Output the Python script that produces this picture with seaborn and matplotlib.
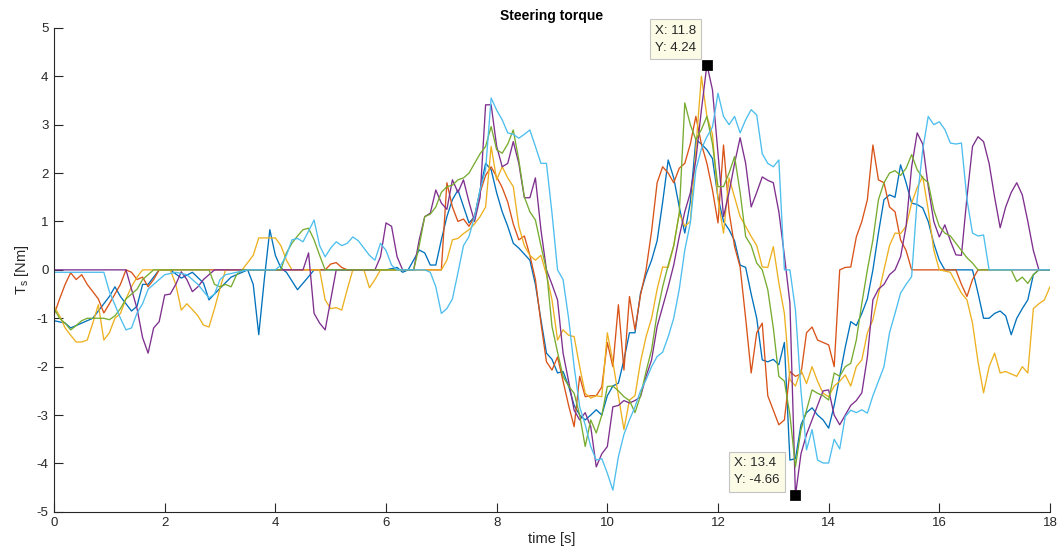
import matplotlib
matplotlib.use("Agg")
import matplotlib.pyplot as plt
import seaborn as sns
import pandas as pd

# MATLAB default line order / colours
run_names = ["run 1", "run 2", "run 3", "run 4", "run 5", "run 6"]
run_colors = ["#0072BD", "#D95319", "#EDB120", "#7E2F8E", "#77AC30", "#4DBEEE"]

# (time [s], torque [Nm])
run1 = [(0, -1.05), (0.2, -1.1), (0.3, -1.2), (0.5, -1.1), (0.7, -1.0), (0.9, -0.7), (1.0, -0.55),
        (1.1, -0.35), (1.2, -0.55), (1.4, -0.85), (1.5, -0.75), (1.6, -0.3), (1.7, -0.3), (1.9, 0),
        (2.1, 0), (2.3, -0.17), (2.5, -0.05), (2.7, -0.27), (2.8, -0.62), (3.0, -0.38), (3.2, -0.15),
        (3.4, -0.05), (3.5, 0), (3.6, -0.3), (3.7, -1.34), (3.8, -0.2), (3.9, 0.83), (4.0, 0.3),
        (4.1, 0.04), (4.2, -0.05), (4.4, -0.41), (4.6, -0.14), (4.7, 0), (6.0, 0), (6.2, 0.05),
        (6.3, -0.05), (6.4, 0), (6.6, 0.41), (6.7, 0.35), (6.8, 0.1), (6.9, 0.1), (7.0, 0.62),
        (7.1, 1.1), (7.2, 1.45), (7.3, 1.65), (7.5, 0.97), (7.6, 1.1), (7.7, 1.65), (7.8, 2.2),
        (7.9, 2.07), (8.0, 1.59), (8.1, 1.2), (8.2, 0.9), (8.3, 0.55), (8.4, 0.45), (8.6, 0.2),
        (8.7, -0.3), (8.8, -1.03), (8.9, -1.72), (9.0, -1.85), (9.1, -2.13), (9.2, -2.1), (9.3, -2.4),
        (9.4, -2.8), (9.5, -3.0), (9.6, -3.1), (9.7, -3.0), (9.8, -2.89), (9.9, -3.0), (10.0, -2.6),
        (10.1, -2.4), (10.2, -2.34), (10.3, -1.86), (10.4, -1.3), (10.5, -1.3), (10.6, -0.48),
        (10.7, -0.1), (10.8, 0.2), (10.9, 0.6), (11.0, 1.4), (11.1, 2.27), (11.2, 1.9), (11.3, 1.3),
        (11.4, 0.76), (11.5, 1.4), (11.6, 2.69), (11.7, 2.6), (11.8, 2.48), (11.9, 2.3), (12.0, 1.5),
        (12.1, 1.0), (12.2, 0.83), (12.3, 0.6), (12.4, 0.1), (12.5, 0.05), (12.6, -0.5), (12.7, -1.0),
        (12.8, -1.86), (12.9, -1.9), (13.0, -1.85), (13.1, -1.96), (13.2, -1.5), (13.3, -3.93),
        (13.4, -3.9), (13.5, -3.2), (13.6, -2.95), (13.7, -2.85), (13.8, -3.0), (13.9, -3.1),
        (14.0, -3.27), (14.1, -2.8), (14.2, -2.2), (14.3, -1.6), (14.4, -1.07), (14.5, -1.15),
        (14.6, -0.9), (14.7, -0.6), (14.8, 0), (14.9, 0.76), (15.0, 1.45), (15.1, 1.55), (15.2, 1.5),
        (15.3, 2.17), (15.4, 1.8), (15.5, 1.38), (15.6, 1.35), (15.7, 1.28), (15.8, 1.0), (15.9, 0.55),
        (16.0, 0.2), (16.1, 0), (16.6, 0), (16.7, -0.48), (16.8, -1.0), (16.9, -1.0), (17.0, -0.9),
        (17.1, -0.85), (17.2, -0.95), (17.3, -1.34), (17.4, -1.0), (17.5, -0.8), (17.6, -0.62),
        (17.7, -0.1), (17.8, 0), (18.0, 0)]

run2 = [(0, -0.93), (0.1, -0.6), (0.2, -0.3), (0.3, -0.06), (0.4, -0.2), (0.5, -0.1), (0.6, -0.3),
        (0.8, -0.6), (0.9, -0.89), (1.0, -0.7), (1.2, -0.3), (1.3, 0), (1.4, -0.05), (1.5, -0.2),
        (1.6, -0.15), (1.7, -0.35), (1.8, -0.2), (1.9, 0), (4.9, 0), (5.0, 0.12), (5.1, 0.15),
        (5.2, 0.05), (5.3, 0), (7.0, 0), (7.1, 1.8), (7.2, 1.3), (7.3, 1.0), (7.4, 1.05), (7.5, 0.9),
        (7.6, 1.1), (7.7, 1.6), (7.8, 1.95), (7.9, 2.13), (8.0, 1.92), (8.1, 1.7), (8.2, 1.4),
        (8.3, 0.95), (8.4, 0.62), (8.5, 0.7), (8.6, 0.3), (8.7, -0.2), (8.8, -1.1), (8.9, -1.9),
        (9.0, -2.07), (9.1, -1.8), (9.2, -2.3), (9.3, -2.8), (9.4, -3.24), (9.5, -2.2), (9.6, -2.62),
        (9.7, -2.6), (9.8, -2.6), (9.9, -2.42), (10.0, -1.5), (10.1, -2.0), (10.2, -0.72),
        (10.3, -2.07), (10.4, -0.55), (10.5, -1.24), (10.6, -0.52), (10.7, 0), (10.8, 0.8),
        (10.9, 1.8), (11.0, 2.13), (11.1, 2.0), (11.2, 1.8), (11.3, 2.1), (11.4, 2.2), (11.5, 2.6),
        (11.6, 3.17), (11.7, 2.6), (11.8, 2.2), (11.9, 1.65), (12.0, 0.97), (12.1, 2.58), (12.2, 1.2),
        (12.3, 0.48), (12.4, 0.06), (12.5, -1.0), (12.6, -2.13), (12.7, -1.3), (12.8, -1.1),
        (12.9, -2.6), (13.0, -2.9), (13.1, -3.2), (13.2, -3.1), (13.3, -2.1), (13.4, -2.2),
        (13.5, -2.15), (13.6, -1.3), (13.7, -1.18), (13.8, -1.45), (13.9, -1.5), (14.0, -1.55),
        (14.1, -2.0), (14.2, 0), (14.3, 0.05), (14.4, 0.06), (14.5, 0.68), (14.6, 1.0), (14.7, 1.45),
        (14.8, 2.58), (14.9, 1.86), (15.0, 1.8), (15.1, 1.3), (15.2, 1.2), (15.3, 0.62), (15.4, 0.4),
        (15.5, 0), (16.3, 0), (16.4, -0.3), (16.5, -0.55), (16.6, -0.2), (16.7, 0), (18.0, 0)]

run3 = [(0, -0.75), (0.1, -0.95), (0.2, -1.2), (0.3, -1.35), (0.4, -1.49), (0.5, -1.49), (0.6, -1.45),
        (0.7, -1.1), (0.8, -0.72), (0.9, -1.45), (1.0, -1.3), (1.1, -1.0), (1.2, -0.9), (1.3, -0.6),
        (1.4, -0.35), (1.5, -0.15), (1.6, 0), (2.1, 0), (2.2, -0.3), (2.3, -0.83), (2.4, -0.7),
        (2.5, -0.82), (2.6, -0.95), (2.7, -1.14), (2.8, -1.18), (2.9, -0.8), (3.0, -0.38), (3.1, 0),
        (3.4, 0), (3.5, 0.15), (3.6, 0.3), (3.7, 0.66), (4.0, 0.66), (4.1, 0.5), (4.2, 0.2), (4.3, 0),
        (4.8, 0), (4.9, -0.62), (5.0, -0.8), (5.1, -0.78), (5.2, -0.83), (5.3, -0.4), (5.4, 0),
        (5.6, 0), (5.7, -0.37), (5.8, -0.2), (5.9, 0), (7.0, 0), (7.1, 0.2), (7.2, 0.62), (7.3, 0.65),
        (7.4, 0.75), (7.5, 0.83), (7.6, 0.95), (7.7, 1.1), (7.8, 1.3), (7.9, 2.55), (8.0, 1.86),
        (8.1, 2.13), (8.2, 1.9), (8.3, 1.72), (8.4, 0.9), (8.5, 0.5), (8.6, 0.3), (8.7, 0.2),
        (8.8, 0.3), (8.9, -0.1), (9.0, -0.62), (9.1, -1.45), (9.2, -1.24), (9.3, -1.35), (9.4, -1.38),
        (9.5, -2.0), (9.6, -2.55), (9.7, -2.65), (9.8, -2.6), (9.9, -2.62), (10.0, -1.3), (10.1, -1.9),
        (10.2, -2.6), (10.3, -3.3), (10.4, -2.69), (10.5, -2.6), (10.6, -1.9), (10.7, -1.38),
        (10.8, -1.0), (10.9, -0.4), (11.0, 0.06), (11.1, 0.05), (11.2, 0.5), (11.3, 1.17), (11.4, 0.9),
        (11.5, 1.0), (11.6, 2.5), (11.7, 4.0), (11.8, 3.17), (11.9, 2.8), (12.0, 1.45), (12.1, 0.76),
        (12.2, 1.9), (12.3, 1.5), (12.4, 1.1), (12.5, 0.9), (12.6, 0.69), (12.7, 0.5), (12.8, 0.06),
        (12.9, 0.05), (13.0, 0.48), (13.1, -0.27), (13.2, -0.9), (13.3, -2.27), (13.4, -2.4),
        (13.5, -2.07), (13.6, -2.35), (13.7, -2.0), (13.8, -2.3), (13.9, -2.55), (14.0, -2.62),
        (14.1, -2.4), (14.2, -2.3), (14.3, -2.17), (14.4, -2.4), (14.5, -2.0), (14.6, -1.86),
        (14.7, -1.3), (14.8, -1.03), (14.9, -0.5), (15.0, 0), (15.1, 0.5), (15.2, 0.76), (15.3, 0.75),
        (15.4, 0.9), (15.5, 1.38), (15.6, 1.7), (15.7, 1.93), (15.8, 1.24), (15.9, 0.41), (16.0, 0),
        (16.2, -0.05), (16.4, -0.48), (16.5, -0.62), (16.6, -1.1), (16.7, -1.9), (16.8, -2.54),
        (16.9, -2.0), (17.0, -1.72), (17.1, -2.13), (17.2, -2.1), (17.3, -2.15), (17.4, -2.2),
        (17.5, -2.0), (17.6, -2.13), (17.7, -0.8), (17.8, -0.7), (17.9, -0.62), (18.0, -0.35)]

run4 = [(0, 0), (1.3, 0), (1.4, -0.4), (1.5, -0.8), (1.6, -1.4), (1.7, -1.72), (1.8, -1.2),
        (1.9, -1.07), (2.0, -0.52), (2.1, -0.5), (2.2, -0.3), (2.3, -0.04), (2.4, -0.2), (2.5, -0.45),
        (2.6, -0.35), (2.7, -0.2), (2.8, -0.1), (2.9, 0), (4.5, 0), (4.6, 0.35), (4.7, -0.9),
        (4.8, -1.1), (4.9, -1.24), (5.0, -0.62), (5.1, 0), (5.8, 0), (5.9, 0.27), (6.0, 0.97),
        (6.1, 0.9), (6.2, 0.27), (6.3, 0), (6.5, 0), (6.6, 0.62), (6.7, 1.1), (6.8, 1.17), (6.9, 1.65),
        (7.0, 1.38), (7.1, 1.25), (7.2, 1.86), (7.3, 1.6), (7.4, 1.86), (7.5, 1.4), (7.6, 1.0),
        (7.7, 1.5), (7.8, 3.41), (7.9, 3.41), (8.0, 2.55), (8.1, 2.13), (8.2, 2.2), (8.3, 2.65),
        (8.4, 2.2), (8.5, 1.49), (8.6, 1.49), (8.7, 1.9), (8.8, 0.83), (8.9, 0), (9.0, -0.3),
        (9.1, -0.62), (9.2, -1.72), (9.3, -2.3), (9.4, -2.9), (9.5, -3.1), (9.6, -2.95), (9.7, -3.24),
        (9.8, -4.07), (9.9, -3.8), (10.0, -3.65), (10.1, -2.83), (10.2, -2.8), (10.3, -2.7),
        (10.4, -2.75), (10.5, -2.7), (10.6, -2.62), (10.7, -2.2), (10.8, -1.86), (10.9, -1.17),
        (11.0, -0.76), (11.1, -0.35), (11.2, 0.1), (11.3, 0.69), (11.4, 1.2), (11.5, 1.59),
        (11.6, 2.27), (11.7, 3.3), (11.8, 4.24), (11.9, 3.72), (12.0, 2.4), (12.1, 1.1), (12.2, 1.6),
        (12.3, 2.2), (12.4, 2.73), (12.5, 2.2), (12.6, 1.3), (12.7, 1.6), (12.8, 1.92), (12.9, 1.85),
        (13.0, 1.8), (13.1, 1.2), (13.2, 0.3), (13.3, -0.68), (13.4, -4.66), (13.5, -3.8),
        (13.6, -3.4), (13.7, -3.1), (13.8, -2.8), (13.9, -2.5), (14.0, -2.48), (14.1, -3.0),
        (14.2, -3.2), (14.3, -3.0), (14.4, -2.8), (14.5, -2.7), (14.6, -2.54), (14.7, -1.8),
        (14.8, -0.62), (14.9, -0.4), (15.0, -0.3), (15.1, -0.1), (15.2, 0), (15.3, 0.27), (15.4, 0.9),
        (15.5, 2.13), (15.6, 2.83), (15.7, 2.6), (15.8, 1.72), (15.9, 1.0), (16.0, 0.68), (16.1, 0.93),
        (16.2, 0.6), (16.3, 0.31), (16.4, 0.3), (16.5, 1.5), (16.6, 2.55), (16.7, 2.75), (16.8, 2.65),
        (16.9, 2.2), (17.0, 1.5), (17.1, 0.87), (17.2, 1.3), (17.3, 1.6), (17.4, 1.8), (17.5, 1.55),
        (17.6, 1.0), (17.7, 0.4), (17.8, 0), (18.0, 0)]

run5 = [(0, -0.8), (0.1, -1.0), (0.2, -1.1), (0.3, -1.24), (0.4, -1.15), (0.5, -1.05), (0.6, -1.0),
        (0.9, -1.0), (1.0, -1.03), (1.1, -0.95), (1.2, -0.8), (1.3, -0.6), (1.5, -0.4), (1.6, -0.2),
        (1.7, -0.1), (1.8, 0), (2.8, 0), (2.9, -0.3), (3.0, -0.35), (3.1, -0.3), (3.2, -0.35),
        (3.3, -0.1), (3.4, 0), (4.1, 0), (4.2, 0.35), (4.3, 0.55), (4.4, 0.7), (4.5, 0.83), (4.6, 0.86),
        (4.7, 0.62), (4.8, 0.3), (4.9, 0), (6.5, 0), (6.6, 0.5), (6.7, 1.1), (6.8, 1.15), (6.9, 1.3),
        (7.0, 1.6), (7.1, 1.72), (7.2, 1.75), (7.3, 1.86), (7.4, 1.9), (7.5, 2.0), (7.6, 2.2),
        (7.7, 2.4), (7.8, 2.55), (7.9, 2.96), (8.0, 2.48), (8.1, 2.41), (8.2, 2.6), (8.3, 2.89),
        (8.4, 2.27), (8.5, 1.51), (8.6, 1.2), (8.7, 1.03), (8.8, 0.5), (8.9, 0), (9.0, -1.17),
        (9.1, -1.7), (9.2, -2.2), (9.3, -2.4), (9.4, -2.55), (9.5, -3.0), (9.6, -3.65), (9.7, -3.1),
        (9.8, -3.37), (9.9, -3.0), (10.0, -2.41), (10.1, -2.4), (10.2, -2.5), (10.3, -2.62),
        (10.4, -2.7), (10.5, -2.95), (10.6, -2.6), (10.7, -2.1), (10.8, -1.65), (10.9, -0.9),
        (11.0, -0.35), (11.1, 0.1), (11.2, 0.5), (11.3, 1.17), (11.4, 3.45), (11.5, 3.0), (11.6, 2.69),
        (11.7, 2.9), (11.8, 3.17), (11.9, 2.6), (12.0, 1.72), (12.1, 1.72), (12.2, 2.0), (12.3, 2.34),
        (12.4, 1.6), (12.5, 0.69), (12.6, 0.5), (12.7, 0.14), (12.8, 0), (12.9, -0.41), (13.0, -1.2),
        (13.1, -2.2), (13.2, -2.3), (13.3, -3.0), (13.4, -4.07), (13.5, -3.3), (13.6, -2.9),
        (13.7, -2.48), (13.8, -2.55), (13.9, -2.6), (14.0, -2.69), (14.1, -2.13), (14.2, -2.2),
        (14.3, -2.0), (14.4, -1.93), (14.5, -1.45), (14.6, -0.69), (14.7, 0), (14.8, 0.62),
        (14.9, 1.45), (15.0, 1.8), (15.1, 2.0), (15.2, 2.05), (15.3, 1.95), (15.4, 2.1), (15.5, 2.38),
        (15.6, 2.07), (15.7, 1.9), (15.8, 1.8), (15.9, 1.24), (16.0, 0.9), (16.1, 0.76), (16.2, 0.7),
        (16.3, 0.55), (16.4, 0.4), (16.5, 0.25), (16.6, 0.14), (16.7, 0), (17.3, 0), (17.4, -0.24),
        (17.5, -0.15), (17.6, -0.28), (17.7, -0.1), (17.8, 0), (18.0, 0)]

run6 = [(0, -0.05), (0.9, -0.05), (1.0, -0.45), (1.1, -0.72), (1.2, -1.0), (1.3, -1.24), (1.4, -1.2),
        (1.5, -0.89), (1.6, -0.7), (1.7, -0.4), (1.8, -0.3), (2.0, -0.1), (2.2, -0.05), (2.4, -0.1),
        (2.6, -0.3), (2.8, -0.58), (2.9, -0.5), (3.0, -0.2), (3.1, -0.1), (3.3, -0.05), (3.5, 0),
        (4.0, 0), (4.1, 0.1), (4.2, 0.3), (4.3, 0.62), (4.4, 0.65), (4.5, 0.58), (4.6, 0.8),
        (4.7, 1.03), (4.8, 0.5), (4.9, 0.27), (5.0, 0.45), (5.1, 0.58), (5.2, 0.5), (5.3, 0.55),
        (5.4, 0.68), (5.5, 0.6), (5.6, 0.45), (5.7, 0.3), (5.8, 0.2), (5.9, 0.55), (6.0, 0.4),
        (6.1, 0.1), (6.2, 0), (6.7, 0), (6.8, -0.05), (6.9, -0.35), (7.0, -0.9), (7.1, -0.8),
        (7.2, -0.6), (7.3, -0.06), (7.4, 0.5), (7.5, 0.69), (7.6, 1.1), (7.7, 1.65), (7.8, 2.07),
        (7.9, 3.55), (8.0, 3.3), (8.1, 3.1), (8.2, 2.83), (8.3, 2.8), (8.4, 2.72), (8.5, 2.8),
        (8.6, 2.89), (8.7, 2.55), (8.8, 2.2), (8.9, 2.2), (9.0, 1.17), (9.1, 0), (9.2, -0.2),
        (9.3, -1.0), (9.4, -2.0), (9.5, -2.83), (9.6, -3.2), (9.7, -3.65), (9.8, -3.93), (9.9, -3.9),
        (10.0, -4.2), (10.1, -4.55), (10.2, -3.86), (10.3, -3.4), (10.4, -3.1), (10.5, -2.83),
        (10.6, -2.5), (10.7, -2.27), (10.8, -2.0), (10.9, -1.79), (11.0, -1.7), (11.1, -1.38),
        (11.2, -1.0), (11.3, -0.4), (11.4, 0.41), (11.5, 0.97), (11.6, 2.07), (11.7, 2.5), (11.8, 2.75),
        (11.9, 2.95), (12.0, 3.65), (12.1, 3.17), (12.2, 3.0), (12.3, 3.17), (12.4, 2.83), (12.5, 3.1),
        (12.6, 3.31), (12.7, 3.2), (12.8, 2.4), (12.9, 2.2), (13.0, 2.13), (13.1, 2.27), (13.2, 0),
        (13.3, 0), (13.4, -0.83), (13.5, -2.5), (13.6, -3.72), (13.7, -3.3), (13.8, -3.93),
        (13.9, -3.99), (14.0, -3.99), (14.1, -3.5), (14.2, -3.7), (14.3, -3.03), (14.4, -2.9),
        (14.5, -2.95), (14.6, -2.89), (14.7, -2.96), (14.8, -2.6), (14.9, -2.3), (15.0, -2.0),
        (15.1, -1.3), (15.2, -0.9), (15.3, -0.48), (15.4, -0.3), (15.5, -0.14), (15.6, 1.45),
        (15.7, 2.48), (15.8, 3.17), (15.9, 3.0), (16.0, 3.06), (16.1, 2.9), (16.2, 2.62), (16.3, 2.6),
        (16.4, 2.62), (16.5, 1.45), (16.6, 0.76), (16.7, 0.7), (16.8, 0.72), (16.9, 0), (18.0, 0)]

datatips = [(11.8, 4.24), (13.4, -4.66)]
x_ticks = [0, 2, 4, 6, 8, 10, 12, 14, 16, 18]
y_ticks = [-5, -4, -3, -2, -1, 0, 1, 2, 3, 4, 5]

sns.set_style("ticks")
plt.rcParams["font.family"] = ["Liberation Sans", "DejaVu Sans"]
plt.rcParams["axes.unicode_minus"] = False

frames = []
for name, run in zip(run_names, [run1, run2, run3, run4, run5, run6]):
    d = pd.DataFrame(run, columns=["time", "torque"])
    d["run"] = name
    frames.append(d)
df = pd.concat(frames, ignore_index=True)

fig = plt.figure(figsize=(10.64, 5.57), dpi=100)
ax = fig.add_axes([0.0508, 0.081, 0.936, 0.869])

sns.lineplot(data=df, x="time", y="torque", hue="run", palette=run_colors,
             estimator=None, sort=False, linewidth=0.95, legend=False, ax=ax)

tips = pd.DataFrame(datatips, columns=["time", "torque"])
sns.scatterplot(data=tips, x="time", y="torque", marker="s", s=45, color="black",
                edgecolor="black", zorder=5, ax=ax)

# data-tip boxes, MATLAB style
box = dict(boxstyle="square,pad=0.4", facecolor="#fbfbe6", edgecolor="#c4c4c4", linewidth=0.8)
offsets = [(-11, 11), (-16, 9)]
for (tx, ty), off in zip(datatips, offsets):
    ax.annotate(f"X: {tx:g}\nY: {ty:g}", xy=(tx, ty), xytext=off, textcoords="offset pixels",
                ha="right", va="bottom", multialignment="left", fontsize=9.5, color="#262626",
                bbox=box, linespacing=1.55, zorder=6)

ax.set_xlim(0, 18)
ax.set_ylim(-5, 5)
ax.set_xticks(x_ticks)
ax.set_yticks(y_ticks)
ax.tick_params(direction="in", length=6.5, width=0.8, colors="#262626", labelsize=9.5, pad=4,
               bottom=True, left=True, top=False, right=False)
for side in ["top", "right"]:
    ax.spines[side].set_visible(False)
for side in ["left", "bottom"]:
    ax.spines[side].set_color("#262626")
    ax.spines[side].set_linewidth(0.8)

ax.set_xlabel("time [s]", fontsize=10.5, color="#262626", labelpad=2)
ax.set_ylabel(r"T$_\mathregular{s}$ [Nm]", fontsize=10.5, color="#262626", labelpad=4)
ax.set_title("Steering torque", fontsize=10, fontweight="bold", color="black", pad=6)

fig.savefig("out.png", dpi=100)
